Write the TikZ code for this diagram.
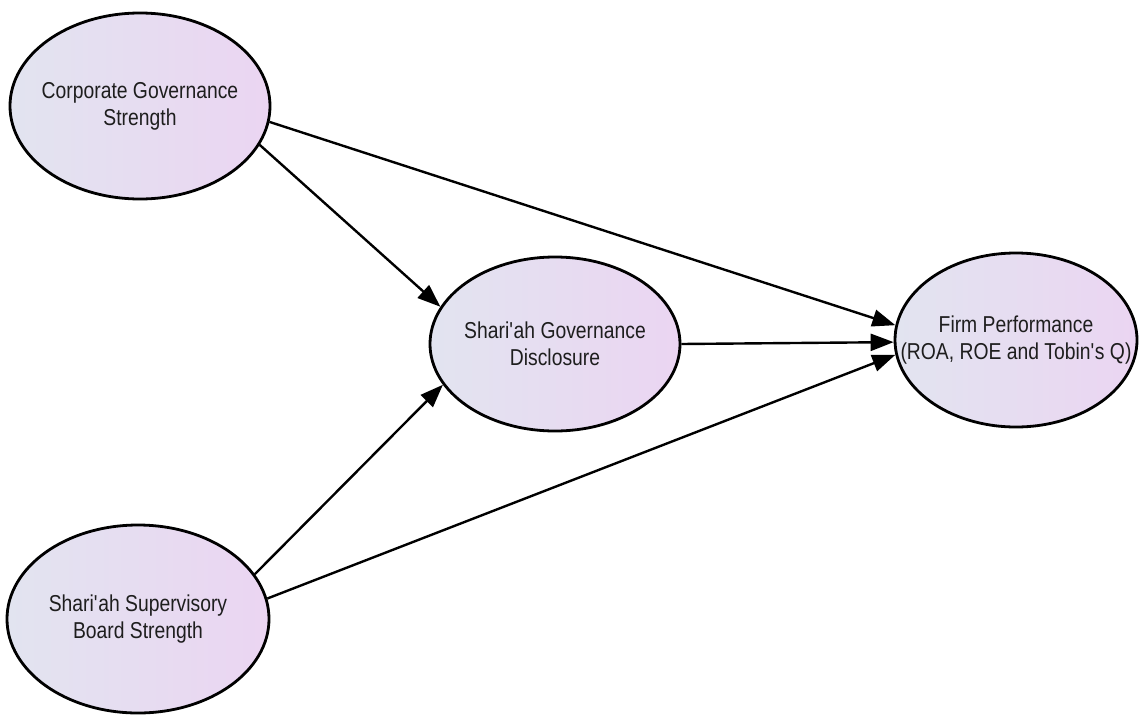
\documentclass[tikz,border=0pt]{standalone}
\usepackage{fontspec}
\setmainfont{Liberation Sans}[FakeStretch=0.84]
\usetikzlibrary{arrows.meta,shapes.geometric}
\definecolor{fillL}{HTML}{E2E4F0}
\definecolor{fillR}{HTML}{EBD5F2}
\definecolor{txt}{HTML}{1E1E1E}
\begin{document}
\begin{tikzpicture}[x=1pt,y=-1pt,
  var/.style={ellipse, draw=black, line width=2.8pt, left color=fillL, right color=fillR, inner sep=0pt},
  lbl/.style={align=center, text=txt, font=\fontsize{23}{27}\selectfont},
  link/.style={line width=2.4pt, -{Triangle[length=23pt,width=17pt]}}]
\useasboundingbox[fill=white] (0,0) rectangle (1140,715);
\node[var, minimum width=260pt, minimum height=186pt,
  label={[lbl]center:Corporate Governance\\Strength}] (cg) at (140,106) {};
\node[var, minimum width=250pt, minimum height=174pt,
  label={[lbl]center:Shari\textquotesingle ah Governance\\Disclosure}] (sgd) at (555,344) {};
\node[var, minimum width=242pt, minimum height=174pt,
  label={[lbl]center:Firm Performance\\(ROA, ROE and Tobin\textquotesingle s Q)}] (fp) at (1016,340) {};
\node[var, minimum width=262pt, minimum height=188pt,
  label={[lbl]center:Shari\textquotesingle ah Supervisory\\Board Strength}] (ssb) at (138,619) {};
\draw[link] (cg.-7.5) -- (fp.173.9);
\draw[link] (cg.-18.9) -- (sgd.162.6);
\draw[link] (sgd.-0.3) -- (fp.181.4);
\draw[link] (ssb.21.1) -- (sgd.200.1);
\draw[link] (ssb.9) -- (fp.187.1);
\end{tikzpicture}
\end{document}
